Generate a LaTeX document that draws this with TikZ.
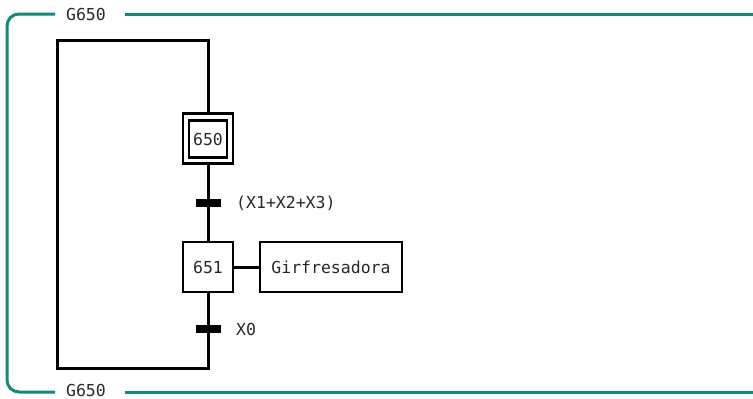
\documentclass[tikz,border=0pt]{standalone}
\usepackage{fontspec}
\setmonofont{DejaVu Sans Mono}
\definecolor{frameteal}{RGB}{18,138,122}
\definecolor{txt}{RGB}{40,40,40}
\begin{document}
\begin{tikzpicture}[x=1pt,y=-1pt,
  lbl/.style={font=\ttfamily\fontsize{16.5}{18}\selectfont, text=txt, inner sep=0pt},
  stepbox/.style={draw, line width=2.8pt, minimum width=50pt, minimum height=50pt, inner sep=0pt},
  innerbox/.style={draw, line width=2.2pt, minimum width=38pt, minimum height=37pt, inner sep=0pt},
  actbox/.style={draw, line width=2.8pt, minimum width=142pt, minimum height=50pt, inner sep=0pt},
  trbar/.style={fill=black, minimum width=25pt, minimum height=8pt, inner sep=0pt},
  link/.style={line width=3pt},
  frameline/.style={frameteal, line width=3pt}]
\useasboundingbox (0,0) rectangle (753,399);

% macro-step frame
\draw[frameline, rounded corners=12pt] (55,14) -- (7,14) -- (7,392) -- (55,392);
\draw[frameline] (125,14) -- (753,14);
\draw[frameline] (125,392) -- (753,392);
\node[lbl] (gtop) at (86,14) {G650};
\node[lbl] (gbot) at (86,390.5) {G650};

% steps, transitions and action
\node[stepbox] (s650) at (208,138.5) {};
\node[innerbox] (s650i) at (208,139) {};
\node[lbl] (n650) at (s650i) {650};
\node[lbl, anchor=west] (c1) at (236,203) {(X1+X2+X3)};
\node[stepbox] (s651) at (208,267) {};
\node[lbl] (n651) at (s651) {651};
\node[actbox] (act) at (331,267) {};
\node[lbl] (nact) at (act) {Girfresadora};
\node[lbl, anchor=west] (c2) at (236,329) {X0};

\coordinate (br) at (208,368);
\coordinate (bl) at (57,368);
\coordinate (tl) at (57,40);
\coordinate (tr) at (208,40);

% connectors
\draw[link] (s650.south) -- (s651.north);
\draw[link] (s651.east) -- (act.west);
\draw[link] (s651.south) -- (br) -- (bl) -- (tl) -- (tr) -- (s650.north);

% transition bars drawn over the links
\node[trbar] (t1) at (208.5,203) {};
\node[trbar] (t2) at (208.5,329) {};
\end{tikzpicture}
\end{document}
